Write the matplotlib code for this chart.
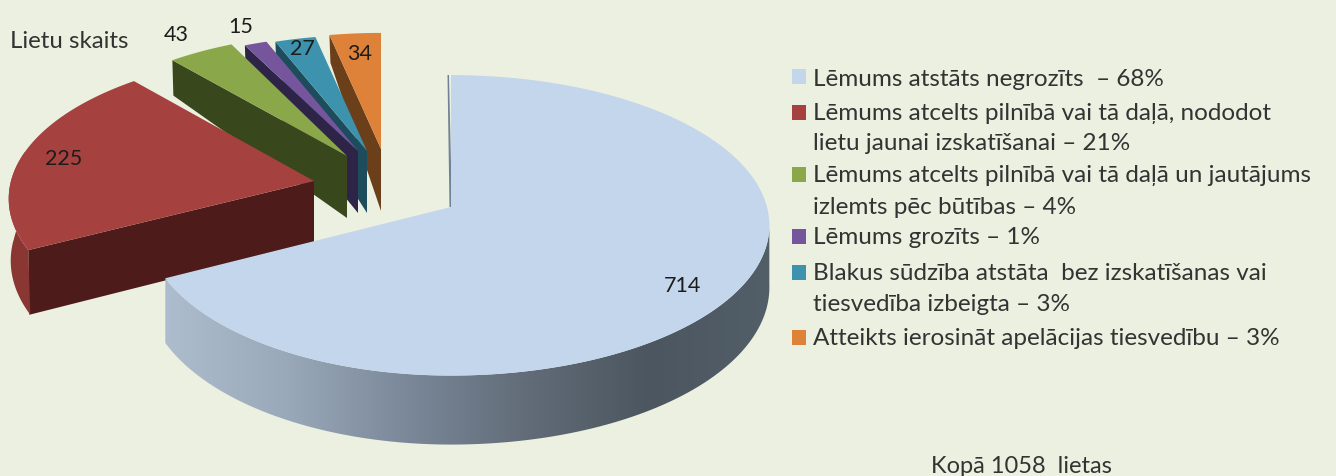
import numpy as np
import matplotlib
matplotlib.use("Agg")
import matplotlib.pyplot as plt
from matplotlib.colors import LinearSegmentedColormap
from matplotlib.patches import Polygon, Rectangle

plt.rcParams['font.family'] = ['Lato', 'DejaVu Sans']

values = [714, 225, 43, 15, 27, 34]
total_label = "Kopā 1058  lietas"
legend_lines = [
    ["Lēmums atstāts negrozīts  – 68%"],
    ["Lēmums atcelts pilnībā vai tā daļā, nododot", "lietu jaunai izskatīšanai – 21%"],
    ["Lēmums atcelts pilnībā vai tā daļā un jautājums", "izlemts pēc būtības – 4%"],
    ["Lēmums grozīts – 1%"],
    ["Blakus sūdzība atstāta  bez izskatīšanas vai", "tiesvedība izbeigta – 3%"],
    ["Atteikts ierosināt apelācijas tiesvedību – 3%"],
]

top_colors = ["#c3d6ec", "#a54240", "#8aa84a", "#75559b", "#3d93ae", "#dd8238"]
cut_colors = ["#6f8299", "#4d1b1a", "#38481c", "#2e2448", "#1d4c5c", "#6b3f1a"]

# layout in pixels, one entry per slice
tips = [(451, 208), (314, 182), (347, 157), (358, 152), (367, 152), (381, 150)]
scale_x = [1.0, 1.0, 0.97, 0.95, 0.95, 0.95]
scale_y = [1.0, 0.97, 0.93, 0.88, 0.88, 0.88]
value_pos = [(683, 286), (64, 159), (176, 35), (241, 27), (302, 49), (360, 54)]
legend_y = [[79], [114, 144], [176, 208], [238], [274, 305], [339]]
square_y = [77, 113, 175, 237, 273, 338]

RX_RIGHT, RX_LEFT, RY, PERSP = 316, 303, 148, 0.122


def rim(theta, tip, sx, sy):
    u, v = np.sin(theta), np.cos(theta)
    b = np.where(u >= 0, RX_RIGHT, RX_LEFT)
    w = 1 + PERSP * v
    return tip[0] + sx * b * u / w, tip[1] - sy * RY * v / w


def depth(theta):
    v = np.cos(theta)
    return np.where(v > 0, 62 - 35 * v, 61 - 8 * v)


fig = plt.figure(figsize=(13.36, 4.77), dpi=100, facecolor="#ecf0e0")
ax = fig.add_axes([0, 0, 1, 1])

angles = np.cumsum([0] + values) / sum(values) * 2 * np.pi

# back slices first, the big one last
z = 2
for i in [5, 4, 3, 2, 1, 0]:
    start, end = angles[i], angles[i + 1]
    tip, sx, sy = tips[i], scale_x[i], scale_y[i]

    if i == 0:
        # outer wall with its shading
        th = np.linspace(np.radians(96), end, 160)
        x, y = rim(th, tip, sx, sy)
        wall = np.column_stack([np.r_[x, x[::-1]], np.r_[y, (y + depth(th))[::-1]]])
        shade = LinearSegmentedColormap.from_list(
            "wall", ["#aebdcd", "#9aa9ba", "#7a8899", "#626c78", "#4c5660", "#525e68"])
        patch = Polygon(wall, closed=True, fc="none", ec="none", zorder=z)
        ax.add_patch(patch)
        im = ax.imshow(np.linspace(0, 1, 256)[None, :], cmap=shade, aspect="auto",
                       extent=(165, 770, 477, 0), zorder=z)
        im.set_clip_path(patch)
        z += 1
        ax.add_patch(Polygon([(447.5, 76), (449.5, 208), (452, 208), (449, 76)],
                             fc=cut_colors[0], ec="none", zorder=z))
    else:
        # cut face towards the viewer
        px, py = rim(np.array([start]), tip, sx, sy)
        d = depth(np.array([start]))[0]
        td = depth(np.array([np.pi / 2]))[0]
        ax.add_patch(Polygon([(tip[0], tip[1]), (px[0], py[0]), (px[0] + 1, py[0] + d),
                              (tip[0], tip[1] + td)],
                             fc=cut_colors[i], ec="none", zorder=z))
        if i == 1:
            th = np.linspace(start, np.radians(282), 40)
            x, y = rim(th, tip, sx, sy)
            ax.add_patch(Polygon(np.column_stack([np.r_[x, x[::-1] + 2],
                                                  np.r_[y, (y + depth(th))[::-1]]]),
                                 fc="#8a3633", ec="none", zorder=z))
    z += 1
    th = np.linspace(start, end, 200)
    x, y = rim(th, tip, sx, sy)
    ax.add_patch(Polygon(np.column_stack([np.r_[tip[0], x], np.r_[tip[1], y]]),
                         fc=top_colors[i], ec="none", zorder=z))
    z += 1

ax.set_xlim(0, 1336)
ax.set_ylim(477, 0)
ax.axis("off")

for val, (px, py) in zip(values, value_pos):
    ax.text(px, py, str(val), fontsize=15.5, color="#1c1c1c", ha="center", va="center", zorder=z)

ax.text(10, 42, "Lietu skaits", fontsize=17.3, color="#333333", va="center", zorder=z)
ax.text(931, 467, total_label, fontsize=17, color="#333333", va="center", zorder=z)

for color, sq, lines, ys in zip(top_colors, square_y, legend_lines, legend_y):
    ax.add_patch(Rectangle((792, sq - 7.5), 14, 15, fc=color, ec="none", zorder=z))
    for line, ly in zip(lines, ys):
        ax.text(813, ly, line, fontsize=17.5, color="#333333", va="center", zorder=z)

fig.savefig("out.png", dpi=100, facecolor=fig.get_facecolor())
